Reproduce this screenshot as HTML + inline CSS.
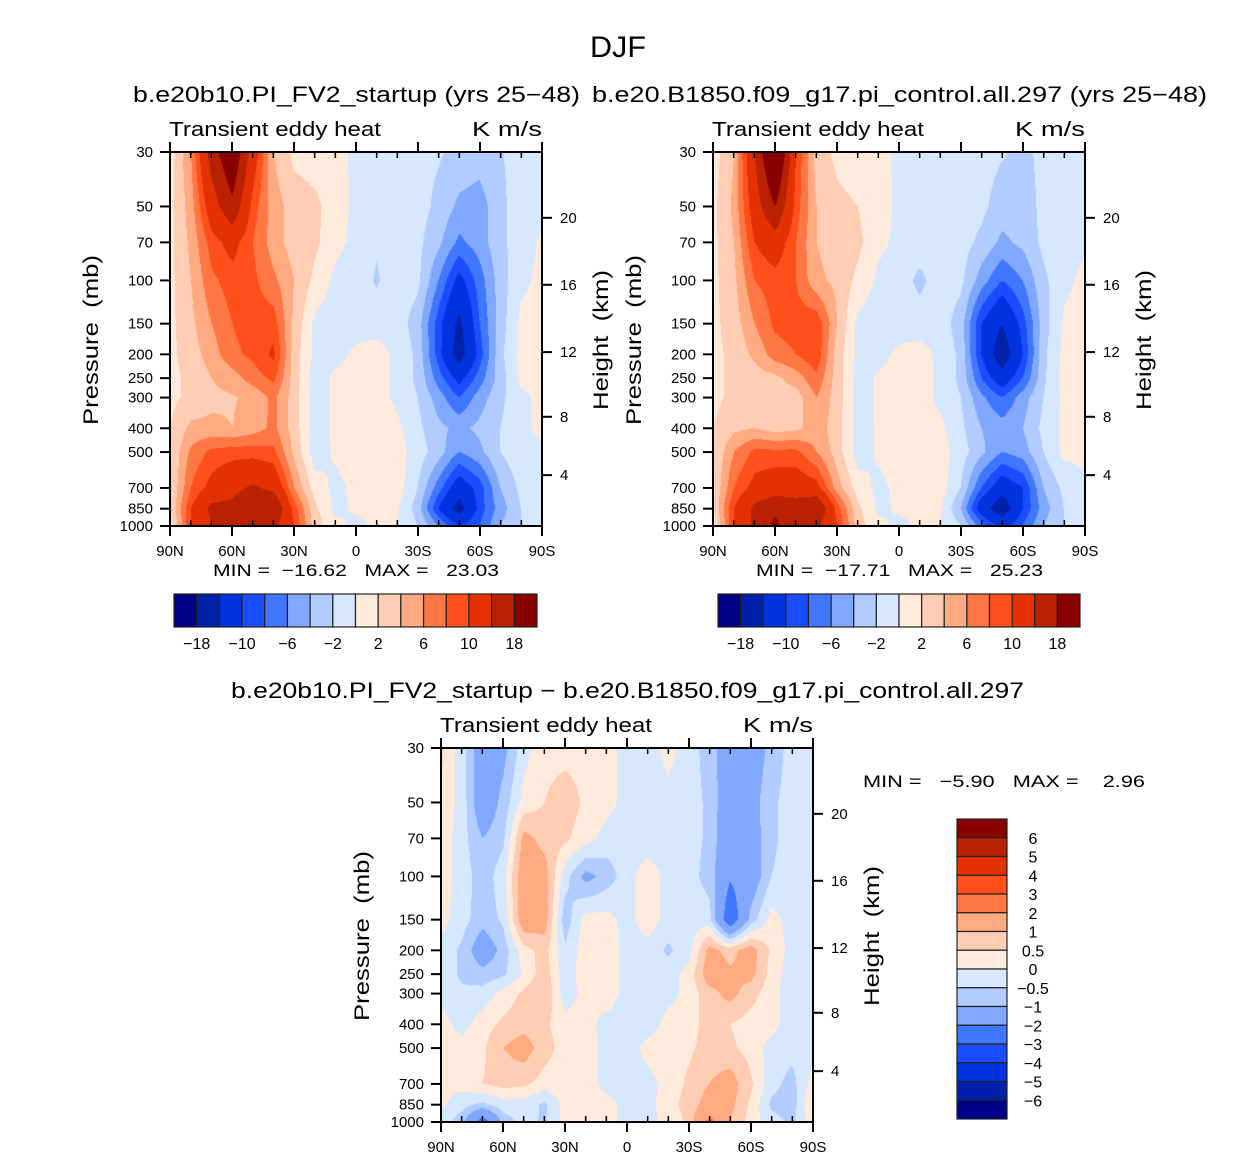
<!DOCTYPE html>
<html><head><meta charset="utf-8">
<style>
html,body{margin:0;padding:0;background:#fff;}
#root{position:relative;width:1256px;height:1159px;overflow:hidden;font-family:"Liberation Sans",sans-serif;}
canvas{position:absolute;}
svg{position:absolute;left:0;top:0;}
text{white-space:pre;}
</style></head>
<body>
<div id="root">
<canvas id="c1" style="left:170px;top:152px" width="372" height="374"></canvas>
<canvas id="c2" style="left:713px;top:152px" width="372" height="374"></canvas>
<canvas id="c3" style="left:441px;top:748px" width="372" height="374"></canvas>
<svg id="ov" width="1256" height="1159"></svg>
</div>
<script>
// ---- data ----
const latLabels = ["90N","60N","30N","0","30S","60S","90S"];
const pLevels = [30,50,70,100,150,200,250,300,400,500,700,850,1000];
const pTicks = [30,50,70,100,150,200,250,300,400,500,700,850,1000];
const hTicks = [20,16,12,8,4];
const hFrac = [0.176,0.355,0.535,0.708,0.864];
const colors = ["#000088","#0022aa","#0033e0","#1a4dff","#4077ff","#80a8ff","#b3ccff","#d6e8ff","#ffeadb","#ffcdb3","#ffaa80","#ff7744","#ff4f1a","#e33200","#b82200","#880000"];
const levels12 = [-18,-14,-10,-8,-6,-4,-2,0,2,4,6,8,10,14,18];
const cbLabels12 = ["−18","−10","−6","−2","2","6","10","18"];
const levels3 = [-6,-5,-4,-3,-2,-1,-0.5,0,0.5,1,2,3,4,5,6];
const cbLabels3 = ["6","5","4","3","2","1","0.5","0","−0.5","−1","−2","−3","−4","−5","−6"];
const field1 = [
[1,6,16,22,12,4,1.5,1,0.8,-0.5,-1,-1,-1.5,-1.8,-2.5,-3,-2.2,-1,-0.8],
[1.5,5,12,17,9,5,3,2.5,1,-0.5,-1.5,-1,-1.2,-2.5,-4.5,-5,-2.5,-1,-0.5],
[1.5,4.5,9,11,8,5,3,2.5,0.5,-0.5,-1.8,-1,-1.5,-3.5,-6.5,-5,-2.5,-1,0.3],
[1.5,4,7.5,9,8.5,6.5,4,1.5,-0.5,-1,-2.2,-1,-1.5,-6,-11,-7,-3,-0.5,0.5],
[1.5,3.5,6,8,9,9,3.5,-0.5,-1,-1,-1,-1,-3,-9,-15,-8,-3,0.5,1],
[1.5,3,5,7.5,8.5,10.5,3,-0.5,-0.8,0.5,1,-0.5,-2.5,-9,-16,-9,-2.5,0.5,1],
[1.5,2.5,4,5,7,8.5,3,-1,0.5,1,1,-0.5,-2.5,-7,-11,-7,-3,0.5,0.8],
[1.5,2.5,3.5,3.8,4.5,6.5,3,-1,0.5,1,1,-0.5,-2,-5,-8,-5,-2.5,-0.5,0.5],
[2,4.5,4.5,4,5,6.5,3,-1,0.5,1,1,0.5,-1.5,-3.5,-4.5,-3.5,-2,-0.5,0.5],
[2,6.5,8.5,9,9,8.5,3.5,-1,0.3,1,1,1,-1,-3,-6,-4.5,-2,-0.5,-0.5],
[2,8,11,13,14.5,13,6,1,-0.5,0.5,1,1,-2,-7,-12,-9,-4,-1.5,-0.5],
[2,10,15,15,17,18,9,2.5,-0.5,0.3,0.5,0.3,-3,-10,-16,-9,-5,-2,-1],
[1,10,14,16,15,15,10,3,0.5,-0.5,0.3,0,-2,-6,-10,-8,-4,-2,-1]];
const field2 = [
[1,4,14,25,10,3,1.5,1,0.8,-0.5,-0.8,-0.8,-0.8,-1.2,-1.8,-2.5,-1.5,-0.8,-0.5],
[1.5,4.5,12,18,9,4,2.5,2,1,-0.5,-0.8,-0.8,-1,-1.5,-3,-3,-1.5,-0.8,-0.5],
[1.5,4,10,12,8,4,3,2.5,0.5,-0.5,-1,-1,-1.2,-2.5,-4.5,-3.5,-1.5,-0.8,-0.3],
[1.5,3.5,8,9,8,4.5,3.5,1.5,-0.5,-1,-2.5,-1,-1.5,-5,-8,-6,-2.5,-0.5,0.5],
[1.5,3,6,8.5,9,9.5,4,-0.5,-1,-1,-1,-1,-3,-10,-14,-9,-3,0.3,1],
[1.5,2.5,4.5,7,8,9.5,3,-0.5,-0.8,0.5,0.8,-0.5,-2.5,-10,-17,-10,-2.5,0.5,1],
[1.5,2.5,3,3.5,5,7.5,3,-0.8,0.3,1,1,-0.5,-2.5,-8,-12,-8,-2.5,0.8,1],
[1.5,2.5,3,3,3,6,3,-0.8,0.3,1,1,-0.5,-2,-5.5,-8,-5,-2,0.5,0.8],
[2,3.5,4,3,3.5,5,3,-1,0.3,1,1,0.5,-1.5,-4,-5,-4,-1.5,0.5,0.8],
[2,6,8.5,8.5,8.5,6,3,-1,0.3,1,1,1,-1,-3.5,-6,-5,-2,0.5,0.5],
[2,8,11,12,12,11,5,1,-0.5,0.5,1,1,-2,-8,-12,-10,-4,-1.5,-0.5],
[2,10,15,17,16,18,9,2.5,-0.5,0.3,0.5,0.3,-4,-12,-17,-10,-5,-2,-1],
[1,10,15,19,14,15,10,3,0.5,-0.5,0.3,0,-2,-7,-11,-8,-4,-2,-1]];
const field3 = [
[0.6,-0.3,-1.5,-1.2,-0.2,0.3,0.3,0.3,0.2,-0.2,-0.3,0.2,-0.3,-0.7,-1.5,-1.5,-0.8,-0.3,-0.3],
[0.4,-0.2,-1.6,-0.8,0.2,0.5,0.8,0.4,0.2,-0.2,-0.2,-0.2,-0.3,-0.6,-1.6,-1.3,-0.6,-0.3,-0.2],
[0.3,-0.3,-1,-0.6,1.2,0.8,0.6,0.2,-0.2,-0.3,-0.3,-0.2,-0.3,-0.6,-1.7,-1.4,-0.6,-0.3,-0.3],
[0.2,-0.2,-0.8,-0.2,1.5,1.3,-0.3,-1.2,-0.8,-0.2,0.3,-0.2,-0.3,-0.7,-1.9,-1.5,-0.5,-0.3,-0.2],
[0.2,-0.3,-0.8,-0.4,1.5,1.3,-0.8,0.2,0.2,-0.2,0.3,-0.2,-0.2,-0.3,-2.8,-0.8,0.2,-0.2,-0.2],
[-0.2,-0.6,-1.5,-0.8,0.3,0.7,-0.4,0.3,0.3,-0.2,-0.2,-0.6,-0.2,1.2,0.8,1.3,0.4,-0.2,-0.2],
[-0.2,-0.6,-0.8,-0.6,0.1,0.8,-0.3,0.3,0.3,-0.2,-0.3,-0.2,0.2,1.4,1.1,1.2,0.3,-0.3,-0.2],
[-0.2,-0.4,-0.3,0.2,0.6,1,-0.3,0.2,0.3,-0.2,-0.3,-0.2,0.2,0.8,1.2,0.7,0.2,-0.3,-0.2],
[0.2,-0.2,0.3,0.6,0.8,0.6,0.2,0.2,-0.2,-0.2,-0.3,0.2,0.3,0.7,0.5,0.3,0.2,-0.3,-0.2],
[0.2,0.2,0.4,1,1.3,0.7,0.3,0.3,-0.2,-0.3,0.2,0.3,0.4,0.7,0.6,0.3,-0.2,-0.3,-0.2],
[0.1,0.2,0.5,0.7,0.6,0.3,0.3,0.3,-0.2,-0.2,-0.2,0.2,0.6,1.0,1.3,0.6,-0.3,-0.7,0.2],
[0.1,-0.3,-0.6,-0.2,-0.2,-0.6,0.2,0.3,0.2,-0.2,-0.2,0.3,0.7,1.3,1.2,0.4,-0.6,-0.8,0.5],
[-0.2,-0.8,-2.5,-0.8,-0.3,-0.6,0.2,0.3,0.2,-0.2,-0.2,0.2,0.6,2.3,1,0.3,-0.3,-0.6,0.2]];

// ---- scales ----
const PW=372, PH=374;
function yFrac(p){return Math.log(p/30)/Math.log(1000/30);}
function xFrac(latIdx){return latIdx/18;}
function colorFor(v,lv){let k=0;while(k<lv.length&&v>=lv[k])k++;return colors[k];}
function hexRGB(h){return [parseInt(h.substr(1,2),16),parseInt(h.substr(3,2),16),parseInt(h.substr(5,2),16)];}
function drawField(id,field,lv){
  const cv=document.getElementById(id),ctx=cv.getContext('2d');
  const img=ctx.createImageData(PW,PH);
  const yl=pLevels.map(p=>yFrac(p)*(PH-1));
  const cache={};
  for(let y=0;y<PH;y++){
    let r=0;while(r<pLevels.length-2&&y>yl[r+1])r++;
    const ty=Math.min(1,Math.max(0,(y-yl[r])/(yl[r+1]-yl[r])));
    for(let x=0;x<PW;x++){
      const gx=x/(PW-1)*18;let c=Math.min(17,Math.floor(gx));const tx=gx-c;
      const v=(field[r][c]*(1-tx)+field[r][c+1]*tx)*(1-ty)+(field[r+1][c]*(1-tx)+field[r+1][c+1]*tx)*ty;
      const col=colorFor(v,lv);const rgb=cache[col]||(cache[col]=hexRGB(col));
      const i=(y*PW+x)*4;img.data[i]=rgb[0];img.data[i+1]=rgb[1];img.data[i+2]=rgb[2];img.data[i+3]=255;
    }
  }
  ctx.putImageData(img,0,0);
}
drawField('c1',field1,levels12);
drawField('c2',field2,levels12);
drawField('c3',field3,levels3);

// ---- overlay ----
const NS="http://www.w3.org/2000/svg";const sv=document.getElementById('ov');
function el(tag,attrs,parent){const e=document.createElementNS(NS,tag);for(const k in attrs)e.setAttribute(k,attrs[k]);(parent||sv).appendChild(e);return e;}
function txt(s,x,y,size,anchor,name,extra){const t=el('text',Object.assign({x:x,y:y,'font-size':size,'text-anchor':anchor||'start','font-family':'Liberation Sans, sans-serif',fill:'#000'},extra||{}));t.textContent=s;


return t;}

txt("DJF",618,57,30,'middle','figure-title',{textLength:56,lengthAdjust:'spacingAndGlyphs'});

function panel(L,T,sub,subX,subW,minmax,mmX,mmW,n){
  const g=el('g',{});
  
  
  el('rect',{x:L,y:T,width:PW,height:PH,fill:'none',stroke:'#000','stroke-width':2},g);
  for(let d=0;d<=18;d++){
    const x=L+xFrac(d)*PW;const major=d%3===0;
    if(major){el('line',{x1:x,y1:T+PH,x2:x,y2:T+PH+10,stroke:'#000','stroke-width':2},g);el('line',{x1:x,y1:T,x2:x,y2:T-10,stroke:'#000','stroke-width':2},g);}
    else{el('line',{x1:x,y1:T+PH,x2:x,y2:T+PH-6,stroke:'#000','stroke-width':1.5},g);el('line',{x1:x,y1:T,x2:x,y2:T+6,stroke:'#000','stroke-width':1.5},g);}
  }
  latLabels.forEach((s,i)=>{txt(s,L+i*PW/6,T+PH+30,15,'middle','lat-tick-label');});
  pTicks.forEach(p=>{const y=T+yFrac(p)*PH;el('line',{x1:L,y1:y,x2:L-10,y2:y,stroke:'#000','stroke-width':2},g);txt(String(p),L-17,y+5,15,'end','pressure-tick-label');});
  hTicks.forEach((h,i)=>{const y=T+hFrac[i]*PH;el('line',{x1:L+PW,y1:y,x2:L+PW+10,y2:y,stroke:'#000','stroke-width':2},g);txt(String(h),L+PW+18,y+5,15,'start','height-tick-label');});
  txt("Pressure  (mb)",0,0,21,'middle','pressure-axis-title',{transform:'translate('+(L-72)+','+(T+188)+') rotate(-90)',textLength:170,lengthAdjust:'spacingAndGlyphs'});
  txt("Height  (km)",0,0,21,'middle','height-axis-title',{transform:'translate('+(L+PW+66)+','+(T+188)+') rotate(-90)',textLength:140,lengthAdjust:'spacingAndGlyphs'});
  txt("Transient eddy heat",L-1,T-16,20,'start','variable-label',{textLength:212,lengthAdjust:'spacingAndGlyphs'});
  txt("K m/s",L+PW,T-16,20,'end','units-label',{textLength:70,lengthAdjust:'spacingAndGlyphs'});
  if(sub)txt(sub,subX,T-50,22,'start','panel-'+n+'-subtitle',{textLength:subW,lengthAdjust:'spacingAndGlyphs'});
  if(minmax)txt(minmax,mmX,T+PH+50,17,'start','min-max-label',{textLength:mmW,lengthAdjust:'spacingAndGlyphs'});
}
panel(170,152,"b.e20b10.PI_FV2_startup (yrs 25−48)",133,447,"MIN =  −16.62   MAX =   23.03",213,286,1);
panel(713,152,"b.e20.B1850.f09_g17.pi_control.all.297 (yrs 25−48)",592,615,"MIN =  −17.71   MAX =   25.23",756,287,2);
panel(441,748,null,0,0,null,0,0,3);
txt("b.e20b10.PI_FV2_startup − b.e20.B1850.f09_g17.pi_control.all.297",231,698,22,'start','panel-3-subtitle',{textLength:793,lengthAdjust:'spacingAndGlyphs'});
txt("MIN =   −5.90   MAX =    2.96",863,787,17,'start','panel-3-min-max',{textLength:282,lengthAdjust:'spacingAndGlyphs'});

function hbar(L,T,W,H,n){
  const bw=W/16;
  colors.forEach((c,i)=>{const r=el('rect',{x:L+i*bw,y:T,width:bw,height:H,fill:c,stroke:'#222','stroke-width':1.2});
    
    });
  cbLabels12.forEach((s,i)=>{txt(s,L+(2*i+1)*bw,T+H+22,16,'middle','colorbar-label');});
}
hbar(174,594,363,33,1);
hbar(718,594,362,33,2);
(function(){const L=957,T=819,W=50,H=300,bh=H/16;
  colors.slice().reverse().forEach((c,i)=>{const r=el('rect',{x:L,y:T+i*bh,width:W,height:bh,fill:c,stroke:'#222','stroke-width':1.2});
    
    });
  cbLabels3.forEach((s,i)=>{txt(s,1033,T+(i+1)*bh+6,16,'middle','colorbar-3-label');});
})();
</script>
</body></html>
